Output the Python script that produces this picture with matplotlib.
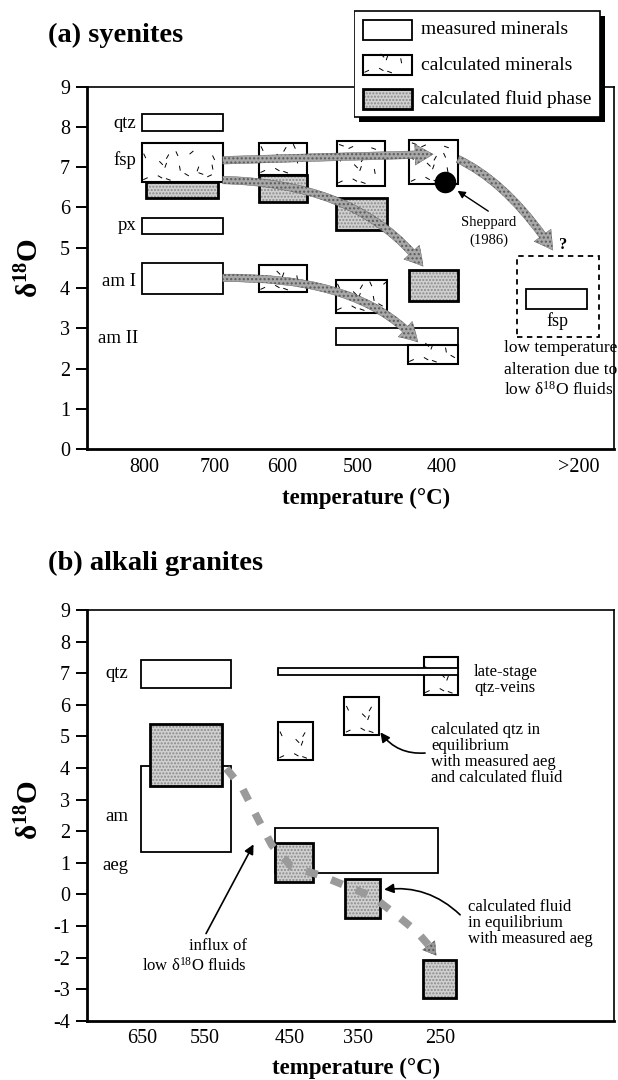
import numpy as np
import matplotlib
matplotlib.use('Agg')
import matplotlib.pyplot as plt
from matplotlib.patches import Rectangle, FancyArrowPatch, ArrowStyle
from matplotlib.path import Path
from matplotlib.collections import LineCollection

plt.rcParams['font.family'] = ['Liberation Serif', 'DejaVu Serif']
plt.rcParams['mathtext.fontset'] = 'custom'
plt.rcParams['mathtext.rm'] = 'Liberation Serif'
plt.rcParams['mathtext.it'] = 'Liberation Serif:italic'
plt.rcParams['mathtext.bf'] = 'Liberation Serif:bold'
plt.rcParams['axes.unicode_minus'] = False

# ---------------- data ----------------
# x axes are schematic: position 0-100 along the temperature axis
# boxes are (x0, x1, d18O_low, d18O_high)

# (a) syenites
a_tick_pos = [11.0, 24.2, 37.0, 51.5, 67.3, 93.4]
a_tick_lab = ['800', '700', '600', '500', '400', '>200']
a_yticks = list(range(0, 10))

a_measured = [(10.45, 25.8, 7.89, 8.31),   # qtz
              (10.45, 25.8, 5.33, 5.75),   # px
              (10.45, 25.8, 3.85, 4.63),   # am I
              (47.2, 70.5, 2.58, 3.00),    # am II
              (83.3, 94.9, 3.48, 3.97)]    # fsp, low T
a_calc = [(10.45, 25.8, 6.62, 7.60),
          (32.7, 41.8, 6.80, 7.60),
          (32.7, 41.8, 3.90, 4.58),
          (47.4, 56.6, 6.54, 7.65),
          (47.2, 57.0, 3.39, 4.21),
          (61.2, 70.4, 6.58, 7.67),
          (60.9, 70.5, 2.11, 2.58)]
a_fluid = [(11.3, 25.0, 6.23, 6.62),
           (32.7, 41.8, 6.14, 6.80),
           (47.2, 57.0, 5.43, 6.23),
           (61.2, 70.5, 3.69, 4.46)]
a_lowT_box = (81.6, 97.2, 2.79, 4.80)
a_mineral_lab = ['qtz', 'fsp', 'px', 'am I']
a_mineral_y = [8.08, 7.17, 5.54, 4.17]
sheppard = (67.9, 6.64)

# trend arrows (start, control, tip)
a_arrows = [((25.8, 7.17), (45.7, 7.25), (65.7, 7.32)),
            ((25.8, 6.68), (52.0, 6.60), (63.8, 4.54)),
            ((25.8, 4.25), (52.0, 4.30), (62.8, 2.66)),
            ((70.4, 7.20), (80.0, 6.60), (88.4, 4.94))]

# (b) alkali granites
b_tick_pos = [10.5, 22.4, 38.5, 51.4, 67.1]
b_tick_lab = ['650', '550', '450', '350', '250']
b_yticks = list(range(-4, 10))

b_measured_back = [(10.3, 27.4, 1.34, 4.06),   # am
                   (35.8, 66.6, 0.66, 2.11)]   # aeg
b_measured_qtz = [(10.3, 27.3, 6.54, 7.42),
                  (36.2, 70.5, 6.93, 7.17)]
b_calc = [(36.3, 42.9, 4.24, 5.45),
          (63.9, 70.5, 6.30, 7.50),
          (48.9, 55.4, 5.05, 6.24)]
b_fluid = [(12.0, 25.7, 3.42, 5.40),
           (35.8, 43.0, 0.40, 1.61),
           (49.0, 55.6, -0.74, 0.47),
           (63.7, 70.1, -3.29, -2.08)]
b_mineral_lab = ['qtz', 'am', 'aeg']
b_mineral_y = [7.0, 2.46, 0.9]
fluid_path_x = [26.5, 29.5, 32.6, 35.1, 38.9, 44.2, 48.7, 54.3, 58.8, 62.6, 64.8]
fluid_path_y = [3.98, 3.37, 2.35, 1.56, 0.87, 0.61, 0.30, -0.08, -0.66, -1.18, -1.60]
fluid_tip = (66.6, -2.0)

FLUID_FACE = '#d0d0d0'
HATCH_GREY = '#8a8a8a'
ARROW_FACE = '#a8a8a8'
ARROW_HATCH = '#5a5a5a'


def scribble(ax, box, step=10.5, length=5.0):
    # short dashes of the "calculated minerals" texture, laid out on a fixed grid
    x0, x1, y0, y1 = box
    p0 = ax.transData.transform((x0, y0))
    p1 = ax.transData.transform((x1, y1))
    px0, px1 = sorted([p0[0], p1[0]])
    py0, py1 = sorted([p0[1], p1[1]])
    angles = [25, 115, 70, 150, 40, 100, 160, 60, 135]
    offs = [0.15, 0.7, 0.4, 0.85, 0.05, 0.55, 0.3]
    segs = []
    for i, cx in enumerate(np.arange(px0 + step * 0.6, px1 - 2, step)):
        for j, cy in enumerate(np.arange(py0 + step * 0.6, py1 - 2, step)):
            k = i * 3 + j * 5
            if k % 4 == 1:
                continue
            a = np.radians(angles[k % len(angles)])
            ox = (offs[(i + 2 * j) % len(offs)] - 0.5) * step * 0.7
            oy = (offs[(2 * i + j) % len(offs)] - 0.5) * step * 0.7
            c = np.array([cx + ox, cy + oy])
            d = np.array([np.cos(a), np.sin(a)]) * length / 2
            segs.append(ax.transData.inverted().transform([c - d, c + d]))
    ax.add_collection(LineCollection(segs, colors='black', linewidths=0.7, zorder=3))


def measured(ax, box, lw=1.3, z=2):
    x0, x1, y0, y1 = box
    ax.add_patch(Rectangle((x0, y0), x1 - x0, y1 - y0, facecolor='white',
                           edgecolor='black', lw=lw, zorder=z))


def calculated(ax, box, z=2):
    measured(ax, box, lw=1.5, z=z)
    scribble(ax, box)


def fluid(ax, box, z=2.5):
    x0, x1, y0, y1 = box
    ax.add_patch(Rectangle((x0, y0), x1 - x0, y1 - y0, facecolor=FLUID_FACE,
                           edgecolor=HATCH_GREY, hatch='.....', lw=0, zorder=z))
    ax.add_patch(Rectangle((x0, y0), x1 - x0, y1 - y0, facecolor='none',
                           edgecolor='black', lw=2.0, zorder=z + 0.1))


def grey_arrow(ax, start, ctrl, tip, tail=5.5, head_w=15, head_l=13):
    path = Path([start, ctrl, tip], [Path.MOVETO, Path.CURVE3, Path.CURVE3])
    style = ArrowStyle.Simple(head_length=head_l, head_width=head_w, tail_width=tail)
    arr = FancyArrowPatch(path=path, arrowstyle=style, mutation_scale=1,
                          facecolor=ARROW_FACE, edgecolor=ARROW_HATCH, hatch='....',
                          lw=0.3, zorder=5)
    ax.add_patch(arr)


def style_axes(ax, yticks, tpos, tlab, xlab_x, xlab_y):
    ax.set_xlim(0, 100)
    ax.set_ylim(yticks[0], yticks[-1])
    ax.set_yticks(yticks)
    ax.set_yticklabels([str(v) for v in yticks])
    ax.set_xticks(tpos)
    ax.set_xticklabels(tlab)
    ax.tick_params(axis='y', direction='out', length=8, width=1.4, labelsize=14.5, pad=4)
    ax.tick_params(axis='x', length=0, labelsize=14.5, pad=6)
    for s in ['left', 'bottom']:
        ax.spines[s].set_linewidth(2.0)
    for s in ['top', 'right']:
        ax.spines[s].set_linewidth(1.2)
    ax.set_xlabel('temperature (°C)', fontsize=16.5, fontweight='bold')
    ax.xaxis.set_label_coords(xlab_x, xlab_y)


fig = plt.figure(figsize=(6.18, 10.8), dpi=100)
W = 527.4 / 618
ax_a = fig.add_axes([86.6 / 618, 1 - 449.3 / 1080, W, 362.8 / 1080])
ax_b = fig.add_axes([86.6 / 618, 1 - 1020.7 / 1080, W, 410.7 / 1080])
style_axes(ax_a, a_yticks, a_tick_pos, a_tick_lab, 0.53, -0.106)
style_axes(ax_b, b_yticks, b_tick_pos, b_tick_lab, 0.51, -0.090)

fig.text(48 / 618, 1 - 35 / 1080, '(a) syenites', fontsize=20.5, fontweight='bold', va='center')
fig.text(48 / 618, 1 - 563 / 1080, '(b) alkali granites', fontsize=20.5, fontweight='bold',
         va='center')
for yc in [0.752, 0.250]:
    fig.text(30 / 618, yc, r'$\mathbf{\delta^{18}O}$', fontsize=21, rotation=90,
             ha='center', va='center')

# ---------- panel (a) ----------
for b in a_measured:
    measured(ax_a, b)
for b in a_calc:
    calculated(ax_a, b)
for b in a_fluid:
    fluid(ax_a, b)
x0, x1, y0, y1 = a_lowT_box
ax_a.add_patch(Rectangle((x0, y0), x1 - x0, y1 - y0, facecolor='none', edgecolor='black',
                         lw=1.3, ls=(0, (3, 2.5)), zorder=2))
for (s, c, t) in a_arrows:
    grey_arrow(ax_a, s, c, t)
ax_a.scatter([sheppard[0]], [sheppard[1]], s=210, color='black', zorder=6)
ax_a.annotate('', xy=(69.9, 6.45), xytext=(76.6, 5.87),
              arrowprops=dict(arrowstyle='-|>', color='black', lw=1.0,
                              mutation_scale=11), zorder=6)
ax_a.text(76.2, 5.4, 'Sheppard\n(1986)', fontsize=10.5, ha='center', va='center',
          linespacing=1.45)
for lab, y in zip(a_mineral_lab, a_mineral_y):
    ax_a.text(9.4, y, lab, fontsize=13.5, ha='right', va='center')
ax_a.text(2.1, 2.76, 'am II', fontsize=13.5, ha='left', va='center')
ax_a.text(90.4, 5.07, '?', fontsize=12, fontweight='bold', ha='center', va='center')
ax_a.text(89.2, 3.19, 'fsp', fontsize=13, ha='center', va='center')
for txt, y in zip(['low temperature', 'alteration due to', r'low δ$^{\mathrm{18}}$O fluids'],
                  [2.51, 1.97, 1.47]):
    ax_a.text(79.1, y, txt, fontsize=12.5, ha='left', va='center')

# ---------- panel (b) ----------
for b in b_measured_back:
    measured(ax_b, b)
for b in b_calc:
    calculated(ax_b, b)
for b in b_measured_qtz:
    measured(ax_b, b, z=3.5)
for b in b_fluid:
    fluid(ax_b, b)
ax_b.plot(fluid_path_x, fluid_path_y, color='#9a9a9a', lw=5.5, ls=(0, (1.6, 1.9)),
          solid_capstyle='butt', dash_capstyle='butt', zorder=5)
ax_b.add_patch(FancyArrowPatch((fluid_path_x[-1], fluid_path_y[-1]), fluid_tip,
                               arrowstyle=ArrowStyle.Simple(head_length=9, head_width=11,
                                                            tail_width=4),
                               mutation_scale=1, facecolor='#9a9a9a', edgecolor=ARROW_HATCH,
                               hatch='....', lw=0.3, zorder=5))
for lab, y in zip(b_mineral_lab, b_mineral_y):
    ax_b.text(7.9, y, lab, fontsize=13.5, ha='right', va='center')
ax_b.text(79.4, 6.8, 'late-stage\nqtz-veins', fontsize=12, ha='center', va='center',
          linespacing=1.0)
ax_b.text(65.3, 4.45, 'calculated qtz in\nequilibrium\nwith measured aeg\nand calculated fluid',
          fontsize=12, ha='left', va='center', linespacing=1.0)
ax_b.text(72.4, -0.92, 'calculated fluid\nin equilibrium\nwith measured aeg',
          fontsize=12, ha='left', va='center', linespacing=1.0)
ax_b.text(30.4, -1.96, 'influx of\n' + r'low δ$^{\mathrm{18}}$O fluids', fontsize=12,
          ha='right', va='center', linespacing=1.15)
arrow_kw = dict(arrowstyle='-|>', color='black', lw=1.2, mutation_scale=14)
ax_b.annotate('', xy=(31.9, 1.66), xytext=(22.4, -1.32), arrowprops=arrow_kw)
ax_b.annotate('', xy=(55.9, 0.14), xytext=(71.2, -0.71),
              arrowprops=dict(connectionstyle='arc3,rad=0.25', **arrow_kw))
ax_b.annotate('', xy=(55.4, 5.2), xytext=(64.7, 4.48),
              arrowprops=dict(connectionstyle='arc3,rad=-0.3', **arrow_kw))

# ---------- legend ----------
lg = fig.add_axes([354 / 618, 1 - 122 / 1080, (608 - 354) / 618, (122 - 9) / 1080])
lg.set_xlim(354, 608)
lg.set_ylim(122, 9)
lg.axis('off')
lg.add_patch(Rectangle((359, 15.5), 246, 106, facecolor='black', edgecolor='black', lw=0))
lg.add_patch(Rectangle((354, 10.7), 246, 106, facecolor='white', edgecolor='black', lw=1.2))
legend_labels = ['measured minerals', 'calculated minerals', 'calculated fluid phase']
legend_rows = [30, 65, 99]
measured(lg, (363, 412, 20, 40), z=3)
calculated(lg, (363, 412, 55, 75), z=3)
fluid(lg, (363, 412, 89, 109), z=3)
for lab, y in zip(legend_labels, legend_rows):
    lg.text(421, y, lab, fontsize=14, ha='left', va='center')

fig.savefig('out.png', dpi=100)
